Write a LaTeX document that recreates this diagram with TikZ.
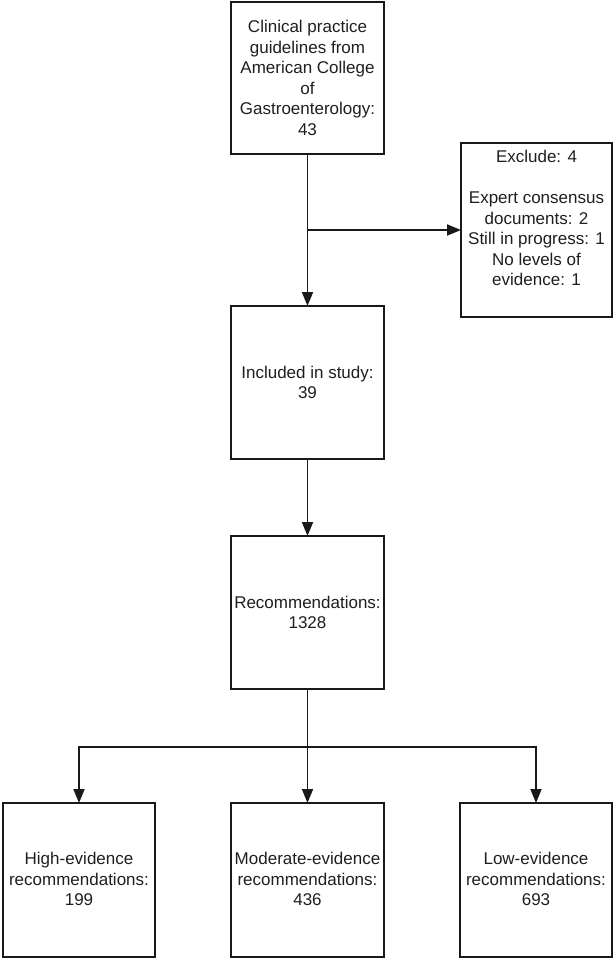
\documentclass[tikz,border=0pt]{standalone}
\usepackage{fontspec}
\setmainfont{Liberation Sans}
\usetikzlibrary{arrows.meta}
\begin{document}
\begin{tikzpicture}[x=1pt,y=-1pt,
  box/.style={draw=black!90, line width=2.2pt, inner sep=0pt, outer sep=0pt, fill=white},
  txt/.style={align=center, text=black!88, font=\fontsize{17}{20.6}\selectfont, inner sep=0pt},
  conn/.style={line width=1.8pt, draw=black!90},
  arr/.style={conn, -{Triangle[length=14pt,width=11pt]}}]
\useasboundingbox (0,0) rectangle (615,959);
% boxes
\node[box, minimum width=153pt, minimum height=152pt] (top) at (307.5,78) {};
\node[txt] (toptext) at (307.5,78) {Clinical practice\\guidelines from\\American College\\of\\Gastroenterology:\\43};
\node[box, minimum width=151pt, minimum height=174pt] (exc) at (536.5,230) {};
\node[txt] (exctext) at (536.5,218) {Exclude: 4\\[20.6pt]Expert consensus\\documents: 2\\Still in progress: 1\\No levels of\\evidence: 1};
\node[box, minimum width=153pt, minimum height=153pt] (inc) at (307.5,382.5) {};
\node[txt] (inctext) at (307.5,382.5) {Included in study:\\39};
\node[box, minimum width=153pt, minimum height=153pt] (rec) at (307.5,612.5) {};
\node[txt] (rectext) at (307.5,612.5) {Recommendations:\\1328};
\node[box, minimum width=152pt, minimum height=154pt] (high) at (79,880) {};
\node[txt] (hightext) at (79,879) {High-evidence\\recommendations:\\199};
\node[box, minimum width=153pt, minimum height=154pt] (mod) at (307.5,880) {};
\node[txt] (modtext) at (307.5,879) {Moderate-evidence\\recommendations:\\436};
\node[box, minimum width=152pt, minimum height=154pt] (low) at (536,880) {};
\node[txt] (lowtext) at (536,879) {Low-evidence\\recommendations:\\693};
% connectors
\coordinate (br) at (307.5,230);
\coordinate (spl) at (307.5,747);
\draw[arr] (top.south) -- (inc.north);
\draw[arr] (br) -- (exc.west);
\draw[arr] (inc.south) -- (rec.north);
\draw[conn] (rec.south) -- (spl);
\draw[arr] (spl) -- (mod.north);
\draw[arr] (spl) -| (high.north);
\draw[arr] (spl) -| (low.north);
\end{tikzpicture}
\end{document}
